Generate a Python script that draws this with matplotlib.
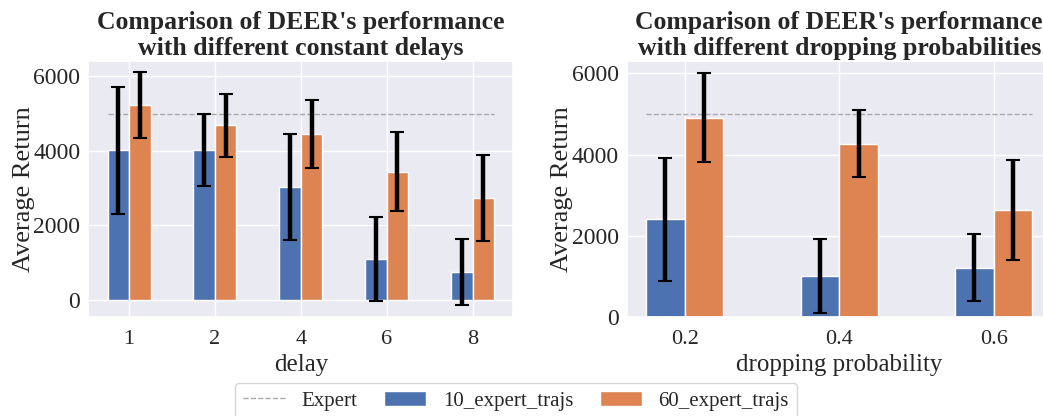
import numpy as np
import matplotlib
matplotlib.use("Agg")
import matplotlib.pyplot as plt
import seaborn as sns
from matplotlib.lines import Line2D
from matplotlib.patches import Patch

# Constant-delay experiment
delays = ["1", "2", "4", "6", "8"]
delay_mean_10 = [4010, 4010, 3030, 1095, 750]
delay_std_10 = [1705, 965, 1430, 1130, 885]
delay_mean_60 = [5220, 4685, 4450, 3445, 2735]
delay_std_60 = [885, 845, 910, 1050, 1165]

# Dropping-probability experiment
drop_probs = ["0.2", "0.4", "0.6"]
drop_mean_10 = [2400, 1002, 1209]
drop_std_10 = [1520, 912, 831]
drop_mean_60 = [4910, 4268, 2628]
drop_std_60 = [1105, 833, 1232]

expert_return = 5000

sns.set_theme(style="darkgrid")
plt.rcParams["font.family"] = ["Liberation Serif", "DejaVu Serif"]

c10 = "#4C72B0"
c60 = "#DD8452"
err_kw = dict(ecolor="black", elinewidth=3.2, capsize=5, capthick=1.5)

W, H = 1043, 416
fig = plt.figure(figsize=(W / 100, H / 100), dpi=100)
bottom = (H - 316.7) / H
height = 256 / H
ax1 = fig.add_axes([88.3 / W, bottom, 425 / W, height])
ax2 = fig.add_axes([626.7 / W, bottom, 425 / W, height])


def draw(ax, cats, m10, s10, m60, s60):
    x = np.arange(len(cats))
    w = 0.25
    ax.hlines(expert_return, x[0] - w, x[-1] + w, colors="darkgray",
              linestyles="--", linewidth=1, zorder=1)
    ax.bar(x - w / 2, m10, w, yerr=s10, color=c10, edgecolor="white",
           linewidth=1, error_kw=err_kw, zorder=2)
    ax.bar(x + w / 2, m60, w, yerr=s60, color=c60, edgecolor="white",
           linewidth=1, error_kw=err_kw, zorder=2)
    ax.set_xticks(x)
    ax.set_xticklabels(cats)
    ax.set_yticks([0, 2000, 4000, 6000])
    ax.tick_params(axis="x", labelsize=16)
    ax.tick_params(axis="y", labelsize=17, length=0, pad=5.8)
    ax.set_ylabel("Average Return", fontsize=19, labelpad=-1)


draw(ax1, delays, delay_mean_10, delay_std_10, delay_mean_60, delay_std_60)
ax1.set_xlabel("delay", fontsize=18)
ax1.set_title("Comparison of DEER's performance\nwith different constant delays",
              fontsize=18.5, fontweight="bold", pad=4)

draw(ax2, drop_probs, drop_mean_10, drop_std_10, drop_mean_60, drop_std_60)
ax2.set_ylim(bottom=0)
ax2.set_xlabel("dropping probability", fontsize=18)
ax2.set_title("Comparison of DEER's performance\nwith different dropping probabilities",
              fontsize=18.5, fontweight="bold", pad=4)

handles = [
    Line2D([], [], color="darkgray", linestyle="--", linewidth=1),
    Patch(facecolor=c10, edgecolor="white"),
    Patch(facecolor=c60, edgecolor="white"),
]
labels = ["Expert", "10_expert_trajs", "60_expert_trajs"]
fig.legend(handles, labels, loc="upper center",
           bbox_to_anchor=(516 / W, (H - 382.7) / H), borderaxespad=0,
           ncol=3, fontsize=15, columnspacing=1.3, frameon=True,
           facecolor="white", edgecolor="0.8")

fig.savefig("out.png", dpi=100)
